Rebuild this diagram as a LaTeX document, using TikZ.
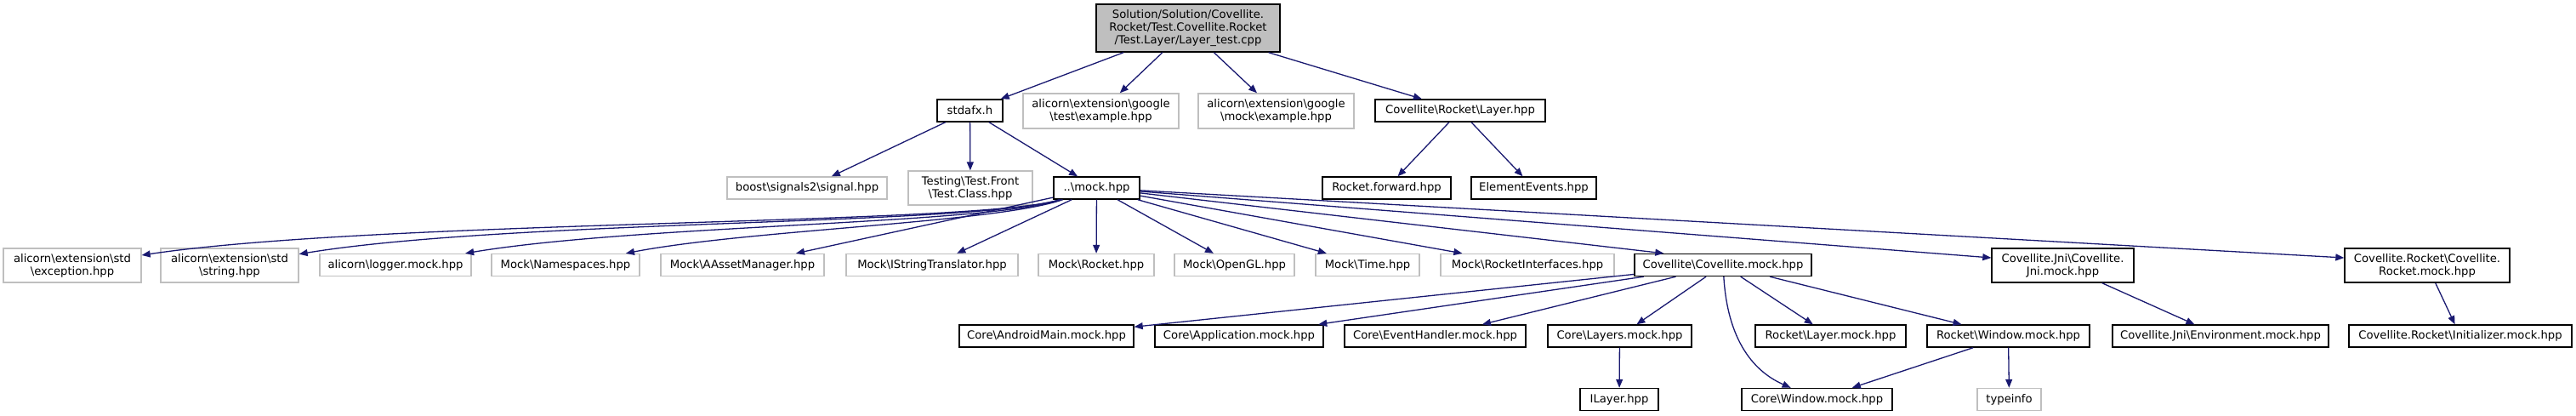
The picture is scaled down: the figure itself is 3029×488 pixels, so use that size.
\documentclass[tikz,border=0pt]{standalone}
\usepackage{fontspec}
\setmainfont{DejaVu Sans}
\usepackage{xcolor}
\usepackage{tikz}
\usetikzlibrary{arrows.meta}
\definecolor{edgeblue}{HTML}{191970}
\definecolor{extgray}{HTML}{BFBFBF}
\newcommand{\bsl}{\textbackslash}

\begin{document}
\begin{tikzpicture}[x=1pt,y=-1pt,
hdr/.style={draw=black,line width=1.4pt,inner sep=0pt,align=center,font=\fontsize{13.2}{15}\selectfont,minimum height=26pt},
exthdr/.style={hdr,draw=extgray},
incl/.style={draw=edgeblue,line width=1.3pt,-{Triangle[length=10pt,width=8pt]}}]
\useasboundingbox (0,0) rectangle (3029,488);
\node[hdr,fill=extgray,minimum width=216pt,minimum height=56pt](root) at (1397,33){Solution/Solution/Covellite.\\Rocket/Test.Covellite.Rocket\\/Test.Layer/Layer\_test.cpp};
\node[hdr,minimum width=77pt](stdafx) at (1140.5,130){stdafx.h};
\node[exthdr,minimum width=183pt,minimum height=41pt](gtest) at (1294.5,130.5){alicorn\bsl extension\bsl google\\\bsl test\bsl example.hpp};
\node[exthdr,minimum width=183pt,minimum height=41pt](gmock) at (1500.5,130.5){alicorn\bsl extension\bsl google\\\bsl mock\bsl example.hpp};
\node[hdr,minimum width=200pt](rlayer) at (1717,130){Covellite\bsl Rocket\bsl Layer.hpp};
\node[exthdr,minimum width=188pt](boost) at (949,221){boost\bsl signals2\bsl signal.hpp};
\node[exthdr,minimum width=146pt,minimum height=40pt](testing) at (1141,221){Testing\bsl Test.Front\\\bsl Test.Class.hpp};
\node[hdr,minimum width=101pt](mock) at (1289.5,221){..\bsl mock.hpp};
\node[hdr,minimum width=151pt](fwd) at (1630.5,221){Rocket.forward.hpp};
\node[hdr,minimum width=147pt](events) at (1803.5,221){ElementEvents.hpp};
\node[exthdr,minimum width=162pt,minimum height=40pt](exc) at (85,312){alicorn\bsl extension\bsl std\\\bsl exception.hpp};
\node[exthdr,minimum width=162pt,minimum height=40pt](str) at (270,312){alicorn\bsl extension\bsl std\\\bsl string.hpp};
\node[exthdr,minimum width=178pt](logger) at (465,311.5){alicorn\bsl logger.mock.hpp};
\node[exthdr,minimum width=174pt](names) at (665,311.5){Mock\bsl Namespaces.hpp};
\node[exthdr,minimum width=192pt](asset) at (873,311.5){Mock\bsl AAssetManager.hpp};
\node[exthdr,minimum width=202pt](istr) at (1096,311.5){Mock\bsl IStringTranslator.hpp};
\node[exthdr,minimum width=136pt](mrocket) at (1289,311.5){Mock\bsl Rocket.hpp};
\node[exthdr,minimum width=141pt](opengl) at (1451.5,311.5){Mock\bsl OpenGL.hpp};
\node[exthdr,minimum width=122pt](mtime) at (1608,311.5){Mock\bsl Time.hpp};
\node[exthdr,minimum width=204pt](rint) at (1796,311.5){Mock\bsl RocketInterfaces.hpp};
\node[hdr,minimum width=208pt](cmock) at (2026,311.5){Covellite\bsl Covellite.mock.hpp};
\node[hdr,minimum width=167pt,minimum height=40pt](jni) at (2425.5,312){Covellite.Jni\bsl Covellite.\\Jni.mock.hpp};
\node[hdr,minimum width=194pt,minimum height=40pt](rmock) at (2854,312){Covellite.Rocket\bsl Covellite.\\Rocket.mock.hpp};
\node[hdr,minimum width=205pt](android) at (1230.5,395){Core\bsl AndroidMain.mock.hpp};
\node[hdr,minimum width=198pt](app) at (1457,395){Core\bsl Application.mock.hpp};
\node[hdr,minimum width=213pt](evh) at (1687.5,395){Core\bsl EventHandler.mock.hpp};
\node[hdr,minimum width=169pt](layers) at (1904.5,395){Core\bsl Layers.mock.hpp};
\node[hdr,minimum width=177pt](rlmock) at (2152.5,395){Rocket\bsl Layer.mock.hpp};
\node[hdr,minimum width=191pt](rwmock) at (2361.5,395){Rocket\bsl Window.mock.hpp};
\node[hdr,minimum width=254pt](env) at (2611,395){Covellite.Jni\bsl Environment.mock.hpp};
\node[hdr,minimum width=262pt](init) at (2893,395){Covellite.Rocket\bsl Initializer.mock.hpp};
\node[hdr,minimum width=92pt](ilayer) at (1904,469.5){ILayer.hpp};
\node[hdr,minimum width=177pt](cwmock) at (2136.5,469.5){Core\bsl Window.mock.hpp};
\node[exthdr,minimum width=75pt](typeinfo) at (2362.5,469.5){typeinfo};
\draw[incl](root)--(stdafx);
\draw[incl](root)--(gtest);
\draw[incl](root)--(gmock);
\draw[incl](root)--(rlayer);
\draw[incl](stdafx)--(boost);
\draw[incl](stdafx)--(testing);
\draw[incl](stdafx)--(mock);
\draw[incl](rlayer)--(fwd);
\draw[incl](rlayer)--(events);
\draw[incl](mock)..controls(1150,265)and(450,258)..(exc);
\draw[incl](mock)..controls(1150,265)and(600,258)..(str);
\draw[incl](mock)..controls(1160,264)and(750,264)..(logger);
\draw[incl](mock)..controls(1170,262)and(880,270)..(names);
\draw[incl](mock)--(asset);
\draw[incl](mock)--(istr);
\draw[incl](mock)--(mrocket);
\draw[incl](mock)--(opengl);
\draw[incl](mock)--(mtime);
\draw[incl](mock)--(rint);
\draw[incl](mock)--([xshift=35pt]cmock.north west);
\draw[incl](mock)--([yshift=9pt]jni.west);
\draw[incl](mock)--([yshift=9pt]rmock.west);
\draw[incl](cmock)--(android);
\draw[incl](cmock)--(app);
\draw[incl](cmock)--(evh);
\draw[incl](cmock)--(layers);
\draw[incl](cmock)--(rlmock);
\draw[incl](cmock)--(rwmock);
\draw[incl](cmock)..controls(2032,410)and(2070,440)..(cwmock);
\draw[incl](layers)--(ilayer);
\draw[incl](rwmock)--(cwmock);
\draw[incl](rwmock)--(typeinfo);
\draw[incl](jni)--(env);
\draw[incl](rmock)--(init);
\end{tikzpicture}
\end{document}
